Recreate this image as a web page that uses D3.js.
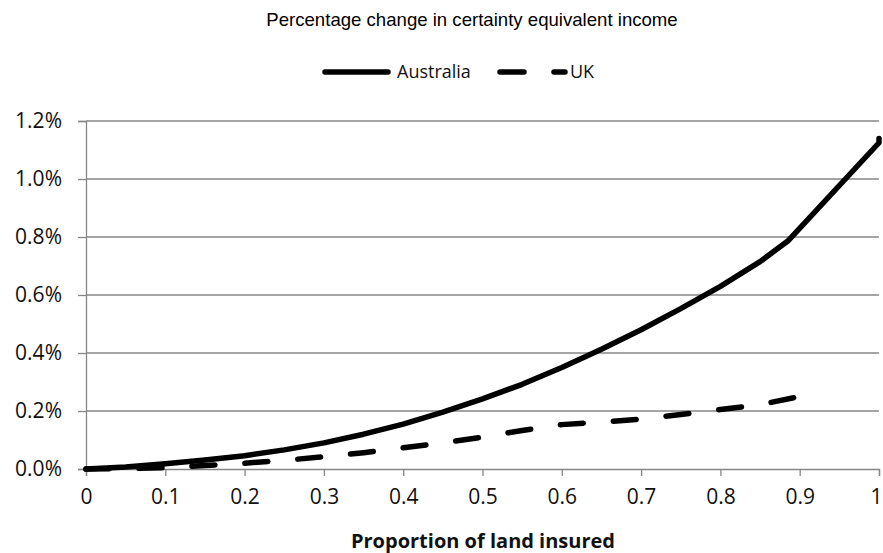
<!DOCTYPE html>
<html><head><meta charset="utf-8">
<script src="https://cdn.jsdelivr.net/npm/d3@7"></script>
<style>body{margin:0;background:#fff}</style>
</head><body>
<svg id="c" width="883" height="553"></svg>
<script>
const title = "Percentage change in certainty equivalent income";
const xTitle = "Proportion of land insured";
const seriesNames = ["Australia", "UK"];
const ausX = [0,0.05,0.1,0.15,0.2,0.25,0.3,0.35,0.4,0.45,0.5,0.55,0.6,0.65,0.7,0.75,0.8,0.85,0.885,1.0,1.0];
const ausY = [0,0.007,0.018,0.031,0.046,0.066,0.09,0.12,0.155,0.196,0.242,0.292,0.35,0.413,0.48,0.553,0.63,0.715,0.786,1.125,1.14];
const ukX = [0,0.05,0.1,0.15,0.2,0.25,0.3,0.35,0.4,0.45,0.5,0.55,0.6,0.65,0.7,0.75,0.8,0.85,0.9];
const ukY = [0,0.001,0.005,0.012,0.02,0.03,0.042,0.056,0.073,0.09,0.11,0.133,0.153,0.162,0.172,0.188,0.205,0.222,0.25];
const xTicks = [0,0.1,0.2,0.3,0.4,0.5,0.6,0.7,0.8,0.9,1];
const yTicks = [0,0.2,0.4,0.6,0.8,1.0,1.2];

const svg = d3.select("#c");
const L = 86, R = 879, T = 121, B = 469;
const x = d3.scaleLinear().domain([0,1]).range([L,R]);
const y = d3.scaleLinear().domain([0,1.2]).range([B,T]);
const grid = "#868686";
const font = "'Open Sans', sans-serif";

svg.append("text").attr("x",472).attr("y",26).attr("text-anchor","middle")
  .attr("font-family","'Liberation Sans', Arial, sans-serif").attr("font-size",18.6).attr("fill","#000").text(title);

// gridlines
svg.append("g").selectAll("line").data(yTicks.slice(1)).join("line")
  .attr("x1",L).attr("x2",R).attr("y1",d=>y(d)).attr("y2",d=>y(d))
  .attr("stroke",grid).attr("stroke-width",1.3);

// y axis
const ya = svg.append("g").attr("transform",`translate(${L},0)`)
  .call(d3.axisLeft(y).tickValues(yTicks).tickFormat(d=>d.toFixed(1)+"%").tickSize(8).tickPadding(16));
ya.select(".domain").attr("stroke",grid).attr("stroke-width",1.3);
ya.selectAll(".tick line").attr("stroke",grid).attr("stroke-width",1.3);
ya.selectAll("text").attr("font-family",font).attr("font-size",21).attr("fill","#111");

// x axis
const xa = svg.append("g").attr("transform",`translate(0,${B})`)
  .call(d3.axisBottom(x).tickValues(xTicks).tickFormat(d=>d===0?"0":d===1?"1":String(d)).tickSize(7).tickPadding(13));
xa.select(".domain").attr("stroke",grid).attr("stroke-width",1.3);
xa.selectAll(".tick line").attr("stroke",grid).attr("stroke-width",1.3);
xa.selectAll("text").attr("font-family",font).attr("font-size",21).attr("fill","#111");
xa.selectAll(".tick").filter(d=>d===1).select("text").attr("text-anchor","end").attr("dx",3);

svg.append("text").attr("x",483).attr("y",548).attr("text-anchor","middle")
  .attr("font-family",font).attr("font-weight","bold").attr("font-size",20).attr("fill","#111").text(xTitle);

const line = d3.line().x(d=>x(d[0])).y(d=>y(d[1])).curve(d3.curveLinear);
const aus = ausX.map((v,i)=>[v,ausY[i]]);
const uk = ukX.map((v,i)=>[v,ukY[i]]);

svg.append("path").attr("d",line(uk)).attr("fill","none").attr("stroke","#000")
  .attr("stroke-width",5.5).attr("stroke-dasharray","23,30").attr("stroke-linecap","round").attr("stroke-linejoin","round");
svg.append("path").attr("d",line(aus)).attr("fill","none").attr("stroke","#000")
  .attr("stroke-width",5.5).attr("stroke-linecap","round").attr("stroke-linejoin","round");

// legend
const lg = svg.append("g");
lg.append("line").attr("x1",325).attr("x2",388).attr("y1",72).attr("y2",72)
  .attr("stroke","#000").attr("stroke-width",5.5).attr("stroke-linecap","round");
lg.append("text").attr("x",397).attr("y",78).attr("font-family",font).attr("font-size",18).attr("fill","#111").text(seriesNames[0]);
lg.append("line").attr("x1",500).attr("x2",565).attr("y1",72).attr("y2",72)
  .attr("stroke","#000").attr("stroke-width",5.5).attr("stroke-linecap","round").attr("stroke-dasharray","24,30");
lg.append("text").attr("x",570).attr("y",78).attr("font-family",font).attr("font-size",18).attr("fill","#111").text(seriesNames[1]);
</script>
</body></html>
